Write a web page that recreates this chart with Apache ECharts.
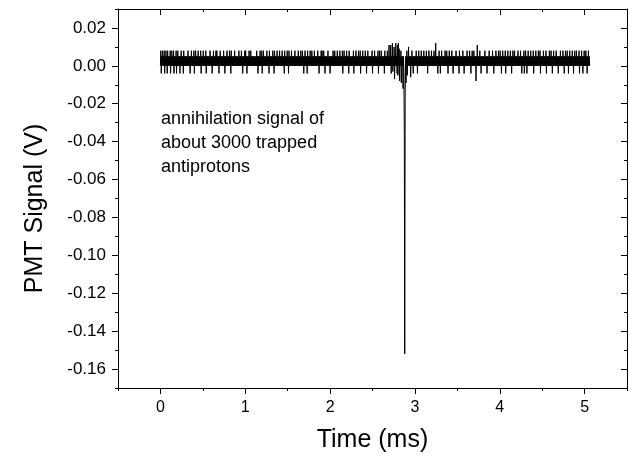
<!DOCTYPE html>
<html><head><meta charset="utf-8">
<script src="https://cdn.jsdelivr.net/npm/echarts@6/dist/echarts.min.js"></script>
<style>html,body{margin:0;padding:0;background:#fff}#c{width:629px;height:458px}</style>
</head><body><div id="c"></div>
<script>
// Sampling of the PMT trace
const startTimeMs = 0;
const sampleIntervalMs = 0.005;
// PMT signal in mV, one value per sample, 20 samples (0.1 ms) per row
const pmtSignalMV = [
  0,8,-4,5,0,8,0,5,0,8,-4,5,0,8,0,5,-4,8,0,5,
  0,5,0,8,-4,5,0,8,0,5,0,8,-4,5,0,5,0,8,-4,5,
  0,8,0,5,0,5,-4,5,0,8,0,5,0,5,-4,8,0,5,0,5,
  0,5,0,5,0,8,0,5,0,5,-4,5,0,8,0,5,0,5,0,8,
  -4,5,0,8,0,5,0,5,0,8,0,5,0,5,0,8,-4,5,0,5,
  0,8,0,5,0,5,0,8,-4,5,0,5,0,5,0,5,0,8,0,5,
  0,5,-4,5,0,8,0,5,0,5,0,8,0,8,0,5,0,5,-4,5,
  0,8,0,5,0,5,0,5,0,8,0,5,-4,5,0,5,0,8,0,5,
  0,5,0,8,0,5,-4,8,0,5,0,5,0,5,0,8,0,5,0,5,
  0,5,0,5,0,8,0,5,0,5,0,8,0,5,-4,5,0,5,0,8,
  0,8,0,5,-4,5,0,5,0,8,0,5,0,8,0,5,0,5,0,5,
  0,5,0,5,0,5,0,8,0,5,-4,5,0,5,0,8,0,5,0,8,
  -4,5,0,8,0,5,0,5,0,5,0,8,0,5,0,5,-4,8,0,5,
  0,5,0,5,0,8,0,5,-4,8,0,5,0,5,0,8,0,5,0,5,
  0,8,0,5,0,5,0,8,0,5,0,5,-4,8,0,5,0,5,0,8,
  0,5,-4,8,0,5,0,5,0,8,0,5,0,5,0,5,0,8,0,5,
  0,5,0,5,0,8,0,5,0,5,0,8,0,5,0,8,0,5,-4,5,
  0,8,0,5,0,5,-4,8,0,5,0,5,0,8,0,5,0,8,0,5,
  0,5,0,8,0,5,0,5,0,5,0,8,0,5,-4,5,0,5,0,8,
  0,8,0,5,0,8,0,5,-4,5,0,5,0,5,0,8,0,5,0,5,
  -4,5,0,5,0,5,0,8,0,5,0,8,0,5,0,5,0,8,0,5,
  0,5,0,8,0,5,0,5,0,8,-4,5,0,8,0,5,0,5,0,8,
  0,5,0,5,-4,8,0,5,0,5,0,5,0,5,0,8,-4,5,0,5,
  0,8,0,5,0,5,0,8,0,5,0,8,-4,5,0,5,0,8,0,5,
  0,5,0,8,0,5,-4,5,0,8,0,5,0,5,0,5,0,5,0,8,
  -4,5,0,5,0,8,0,5,0,5,0,5,0,8,-4,5,0,8,0,5,
  0,8,0,5,0,5,0,5,-4,8,0,5,0,5,0,8,0,5,0,11,
  0,5,0,11,-4,5,0,12,-3,5,0,10,-7,5,0,12,0,5,-4,11,
  -5,12,0,9,-8,5,0,8,-9,5,0,5,-12,5,-4,-36,-152,-16,5,-9,
  0,8,-5,5,0,10,0,5,0,5,-6,5,0,8,0,5,-4,5,0,5,
  0,5,0,8,0,5,-4,5,0,8,0,5,0,5,0,8,0,5,0,5,
  0,8,0,5,0,5,0,8,0,5,-4,5,0,8,0,5,0,5,0,8,
  0,5,0,5,0,8,0,5,0,12,0,5,0,5,-4,5,0,8,0,5,
  -4,5,0,8,0,5,0,5,0,5,0,8,0,5,0,8,0,5,-4,5,
  0,8,0,5,0,5,0,8,0,5,-4,5,0,5,0,5,0,8,0,5,
  0,5,0,5,-4,8,0,5,0,5,0,5,0,8,0,5,-4,5,0,5,
  0,5,0,8,0,5,0,5,0,8,0,5,-4,5,0,8,0,5,0,8,
  0,5,0,5,-8,5,0,11,0,5,0,5,0,8,0,5,-4,5,0,5,
  0,5,0,5,0,8,0,5,0,5,-4,5,0,5,0,8,0,5,0,5,
  0,5,0,8,0,5,-4,5,0,5,0,8,0,5,0,5,0,8,0,5,
  0,8,0,5,-4,5,0,8,0,5,0,5,0,8,-4,5,0,5,0,8,
  0,5,0,5,0,8,0,5,-4,5,0,8,0,5,0,8,0,5,0,5,
  0,5,0,8,0,5,0,5,0,8,0,5,-4,5,0,5,0,8,-4,5,
  0,8,0,5,-4,5,0,8,0,5,0,5,0,8,0,5,0,5,0,8,
  -4,5,0,5,0,8,0,5,0,5,0,8,0,5,0,8,-4,5,0,5,
  0,5,0,8,0,5,0,5,0,8,-4,5,0,5,0,5,0,8,0,5,
  0,8,0,5,-4,5,0,8,0,5,0,5,0,8,0,5,0,5,-4,5,
  0,5,0,8,0,5,0,5,0,8,0,5,-4,5,0,8,0,5,0,8,
  0,5,-4,5,0,8,0,5,0,5,0,8,0,5,-4,5,0,8,0,5,
  0,8,0,5,0,5,0,8,-4,5,0,5,0,8,0,5,-4,5,0,8,
  0,5,0,8,0,5,-4,5,0,8,0,5,0
];
const xRange = [-0.5, 5.5];
const yRange = [-0.17, 0.03];
const xTickValues = [0, 1, 2, 3, 4, 5];
const yTickValues = [-0.16, -0.14, -0.12, -0.10, -0.08, -0.06, -0.04, -0.02, 0.00, 0.02];
const xTitle = 'Time (ms)';
const yTitle = 'PMT Signal (V)';
const noteLines = ['annihilation signal of', 'about 3000 trapped', 'antiprotons'];

const FONT = '"Liberation Sans", Arial, sans-serif';
const BLACK = '#000';
const lineSt = { color: BLACK, width: 1 };

const seriesData = pmtSignalMV.map((mv, i) => [startTimeMs + i * sampleIntervalMs, mv / 1000]);

function minorAxis(dim, position, inside, len, extra) {
  const r = dim === 'x' ? xRange : yRange;
  return Object.assign({
    type: 'value', position, min: r[0], max: r[1],
    interval: dim === 'x' ? 0.5 : 0.01,
    axisLine: { show: true, onZero: false, lineStyle: lineSt },
    axisTick: { show: true, inside, length: len, lineStyle: lineSt },
    axisLabel: { show: false },
    splitLine: { show: false }
  }, extra || {});
}
function majorAxis(dim, position, inside, len, labels) {
  const r = dim === 'x' ? xRange : yRange;
  const vals = dim === 'x' ? xTickValues : yTickValues;
  return {
    type: 'value', position, min: r[0], max: r[1],
    axisLine: { show: false, onZero: false },
    axisTick: { show: true, inside, length: len, customValues: vals, lineStyle: lineSt },
    axisLabel: labels ? Object.assign({ customValues: vals, color: BLACK, fontFamily: FONT, fontSize: 16 }, labels) : { show: false },
    splitLine: { show: false }
  };
}

const chart = echarts.init(document.getElementById('c'), null, { renderer: 'canvas' });
chart.setOption({
  animation: false,
  backgroundColor: '#fff',
  grid: { left: 118, right: 2, top: 9, bottom: 70, containLabel: false, outerBoundsMode: 'none' },
  xAxis: [
    minorAxis('x', 'bottom', false, 3, {
      name: xTitle, nameLocation: 'middle', nameGap: 40,
      nameTextStyle: { fontFamily: FONT, fontSize: 25, color: BLACK }
    }),
    majorAxis('x', 'bottom', false, 6, { margin: 12, formatter: v => String(v) }),
    minorAxis('x', 'top', true, 3),
    majorAxis('x', 'top', true, 6, null)
  ],
  yAxis: [
    minorAxis('y', 'left', false, 3, {
      name: yTitle, nameLocation: 'middle', nameGap: 70, nameRotate: 90,
      nameTextStyle: { fontFamily: FONT, fontSize: 25, color: BLACK, padding: [0, 20, 0, 0] }
    }),
    majorAxis('y', 'left', false, 6, { margin: 12, fontSize: 17, formatter: v => v.toFixed(2) }),
    minorAxis('y', 'right', true, 3),
    majorAxis('y', 'right', true, 6, null)
  ],
  graphic: [{
    type: 'text', left: 161, top: 107, silent: true,
    style: { text: noteLines.join('\n'), fontFamily: FONT, fontSize: 18, lineHeight: 24, fill: BLACK }
  }],
  series: [{
    type: 'line', xAxisIndex: 0, yAxisIndex: 0, data: seriesData,
    showSymbol: false, symbol: 'none', sampling: null, silent: true,
    lineStyle: { color: BLACK, width: 1 }
  }]
});
</script>
</body></html>
